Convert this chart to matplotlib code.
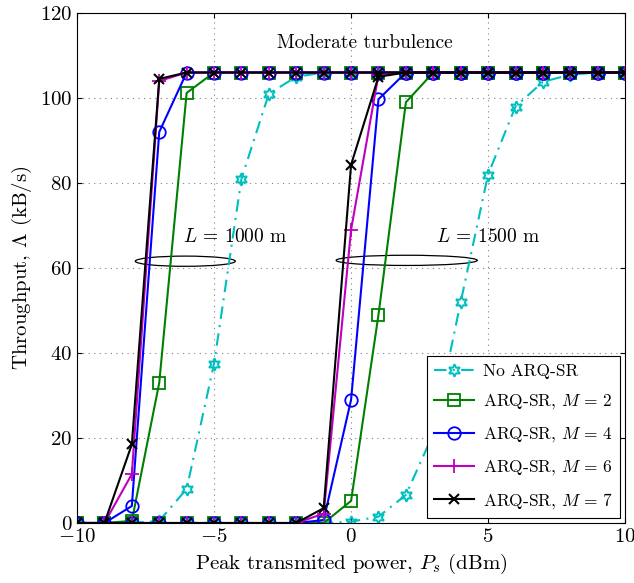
import matplotlib
matplotlib.use("Agg")
import matplotlib.pyplot as plt
from matplotlib.patches import Ellipse

plt.rcParams["font.family"] = ["cmr10", "DejaVu Serif"]
plt.rcParams["mathtext.fontset"] = "cm"
plt.rcParams["axes.formatter.use_mathtext"] = True

# peak transmitted power (dBm)
ps = list(range(-10, 11))

# throughput (kB/s), L = 1000 m
noarq_1000 = [0, 0, 0, 0.5, 8, 37.5, 81, 101, 105, 106, 106, 106, 106, 106, 106, 106, 106, 106, 106, 106, 106]
m2_1000 = [0, 0, 0.5, 33, 101.2, 106, 106, 106, 106, 106, 106, 106, 106, 106, 106, 106, 106, 106, 106, 106, 106]
m4_1000 = [0, 0, 4, 92, 106, 106, 106, 106, 106, 106, 106, 106, 106, 106, 106, 106, 106, 106, 106, 106, 106]
m6_1000 = [0, 0, 11.5, 104, 106, 106, 106, 106, 106, 106, 106, 106, 106, 106, 106, 106, 106, 106, 106, 106, 106]
m7_1000 = [0, 0, 18.5, 104.5, 106, 106, 106, 106, 106, 106, 106, 106, 106, 106, 106, 106, 106, 106, 106, 106, 106]

# throughput (kB/s), L = 1500 m
noarq_1500 = [0, 0, 0, 0, 0, 0, 0, 0, 0, 0, 0.3, 1.5, 6.6, 21, 52, 82, 98, 103.8, 105.5, 106, 106]
m2_1500 = [0, 0, 0, 0, 0, 0, 0, 0, 0, 0, 5.2, 49, 99, 106, 106, 106, 106, 106, 106, 106, 106]
m4_1500 = [0, 0, 0, 0, 0, 0, 0, 0, 0, 0.7, 29, 99.7, 106, 106, 106, 106, 106, 106, 106, 106, 106]
m6_1500 = [0, 0, 0, 0, 0, 0, 0, 0, 0, 2.2, 69, 105.5, 106, 106, 106, 106, 106, 106, 106, 106, 106]
m7_1500 = [0, 0, 0, 0, 0, 0, 0, 0, 0, 3.5, 84.3, 105, 106, 106, 106, 106, 106, 106, 106, 106, 106]

labels = ["No ARQ-SR", r"ARQ-SR, $M\,=\,2$", r"ARQ-SR, $M\,=\,4$",
          r"ARQ-SR, $M\,=\,6$", r"ARQ-SR, $M\,=\,7$"]

fig = plt.figure(figsize=(6.34, 5.83), dpi=100)
ax = fig.add_axes([0.1215, 0.1029, 0.8645, 0.8748])

series = [
    (noarq_1000, noarq_1500, dict(color="#00bfbf", ls=(0, (6, 3, 1, 3)), marker=(6, 1, 0), ms=9, mfc="none", mew=1.4)),
    (m2_1000, m2_1500, dict(color="#008000", ls="-", marker="s", ms=8, mfc="none", mew=1.3)),
    (m4_1000, m4_1500, dict(color="#0000ff", ls="-", marker="o", ms=9, mfc="none", mew=1.3)),
    (m6_1000, m6_1500, dict(color="#bf00bf", ls="-", marker="+", ms=10, mew=1.3)),
    (m7_1000, m7_1500, dict(color="black", ls="-", marker="x", ms=7, mew=1.5)),
]
for (y1, y2, st), lab in zip(series, labels):
    ax.plot(ps, y1, lw=1.5, label=lab, **st)
    ax.plot(ps, y2, lw=1.5, **st)

ax.add_patch(Ellipse((-6.05, 61.6), 3.65, 2.4, fill=False, ec="black", lw=0.9))
ax.add_patch(Ellipse((2.03, 61.8), 5.15, 2.4, fill=False, ec="black", lw=0.9))
ax.text(-6.15, 67.3, r"$L$ = 1000 m", fontsize=14, va="center")
ax.text(3.1, 67.3, r"$L$ = 1500 m", fontsize=14, va="center")
ax.text(0.5, 113, "Moderate turbulence", fontsize=14, ha="center", va="center")

ax.set_xlim(-10, 10)
ax.set_ylim(0, 120)
ax.set_xticks([-10, -5, 0, 5, 10])
ax.set_yticks(range(0, 121, 20))
ax.tick_params(direction="in", top=True, right=True, labelsize=15)
ax.grid(True, ls=(0, (1, 4)), color="gray", lw=0.8)
ax.set_xlabel(r"Peak transmited power, $P_s$ (dBm)", fontsize=15)
ax.set_ylabel(r"Throughput, $\Lambda$ (kB/s)", fontsize=15)

leg = ax.legend(loc="lower right", fontsize=12.5, fancybox=False, edgecolor="black",
                framealpha=1, borderaxespad=0.3, handlelength=2.3, labelspacing=0.8,
                handletextpad=0.5)
leg.get_frame().set_linewidth(0.8)

fig.savefig("out.png", dpi=100)
